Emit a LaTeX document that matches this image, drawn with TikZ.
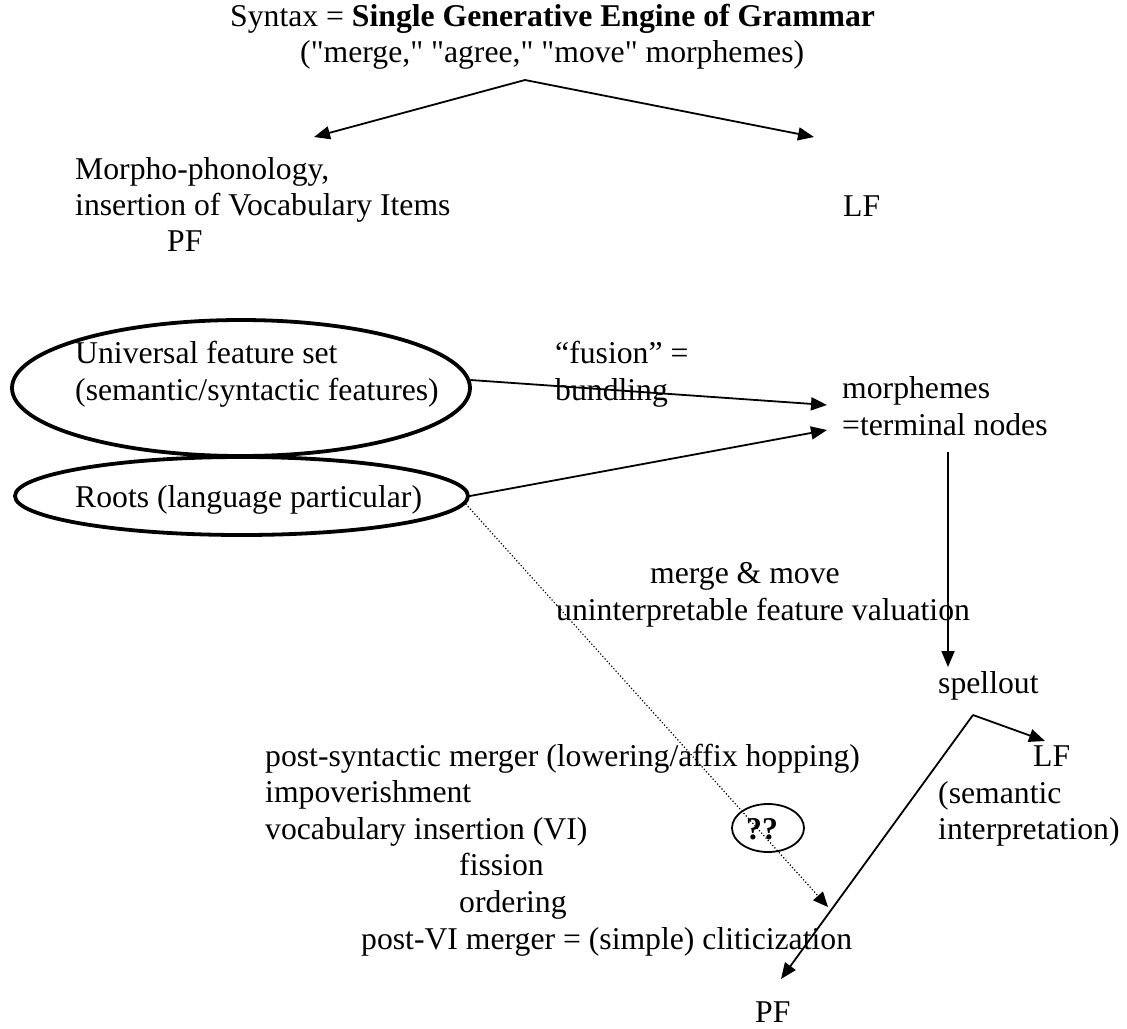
\documentclass[tikz,border=0pt]{standalone}
\usepackage{fontspec}
\setmainfont{Liberation Serif}
% a copy of the serif without TeX ligatures, so that " stays a straight quote
\newfontfamily\plainserif{Liberation Serif}
\usetikzlibrary{arrows.meta,shapes.geometric}
\begin{document}
\begin{tikzpicture}[x=1pt,y=-1pt,
  txt/.style={anchor=base west, inner sep=0pt, font=\plainserif\fontsize{31.7}{36.6}\selectfont},
  flow/.style={line width=1.8pt, -{Triangle[length=16pt,width=13pt]}},
  dotflow/.style={line width=1.2pt, dash pattern=on 1.2pt off 2.1pt,
                  -{Triangle[length=15pt,width=13pt,sep=0pt]}},
  bubble/.style={draw, ellipse, line width=3.8pt, inner sep=0pt},
  smallbubble/.style={draw, ellipse, line width=1.8pt, inner sep=0pt},
  ]
\useasboundingbox (0,0) rectangle (1127,1028);

% heading
\node[txt] (syn1) at (230,26) {Syntax = \textbf{Single Generative Engine of Grammar}};
\node[txt] (syn2) at (300,62) {("merge," "agree," "move" morphemes)};

% the two interfaces
\node[txt] (mp1) at (75,179) {Morpho-phonology,};
\node[txt] (mp2) at (75,215) {insertion of Vocabulary Items};
\node[txt] (mp3) at (167,251) {PF};
\node[txt] (lf1) at (843,216) {LF};

\coordinate (fork) at (525,80);
\coordinate (pfhead) at (314,137);
\coordinate (lfhead) at (814,137);
\draw[flow] (fork) -- (pfhead);
\draw[flow] (fork) -- (lfhead);

% feature inventories
\node[bubble, minimum width=458pt, minimum height=136pt] (ufs) at (241,388) {};
\node[bubble, minimum width=453pt, minimum height=78pt] (roots) at (241.5,496) {};
\node[txt] (ufs1) at (75,363) {Universal feature set};
\node[txt] (ufs2) at (75,400) {(semantic/syntactic features)};
\node[txt] (rootstxt) at (75,507) {Roots (language particular)};

\node[txt] (fus1) at (555,363) {“fusion” =};
\node[txt] (fus2) at (555,400) {bundling};

\node[txt] (mor1) at (842,398) {morphemes};
\node[txt] (mor2) at (842,435) {=terminal nodes};

\coordinate (morA) at (827,405);
\coordinate (morB) at (827,430);
\draw[flow] (ufs.2) -- (morA);
\draw[flow] (roots.east) -- (morB);

% syntax proper
\node[txt] (mm1) at (650,583) {merge \& move};
\node[txt] (mm2) at (556,620) {uninterpretable feature valuation};

\coordinate (morfoot) at (948,452);
\node[txt] (spell) at (938,693) {spellout};
\coordinate (spelltop) at (948,667);
\draw[flow] (morfoot) -- (spelltop);

% after spellout
\coordinate (split) at (973,715);
\coordinate (lfhead2) at (1045,741);
\coordinate (pfhead2) at (781,979);
\draw[flow] (split) -- (lfhead2);
\draw[flow] (split) -- (pfhead2);

\node[txt] (lf2) at (1033,766) {LF};
\node[txt] (sem1) at (938,803) {(semantic};
\node[txt] (sem2) at (938,839) {interpretation)};

% post-syntactic operations
\node[txt] (ps1) at (265,766) {post-syntactic merger (lowering/affix hopping)};
\node[txt] (ps2) at (265,802) {impoverishment};
\node[txt] (ps3) at (265,839) {vocabulary insertion (VI)};
\node[txt] (ps4) at (459,875) {fission};
\node[txt] (ps5) at (459,912) {ordering};
\node[txt] (ps6) at (361,949) {post-VI merger = (simple) cliticization};

\node[smallbubble, minimum width=72pt, minimum height=48pt] (qq) at (768,828) {};
\node[txt, anchor=base] (qqtxt) at (762,839) {\textbf{??}};

\coordinate (vihead) at (828,907);
\draw[dotflow] (roots.-2) -- (vihead);

\node[txt] (pf2) at (755,1022) {PF};
\end{tikzpicture}
\end{document}
